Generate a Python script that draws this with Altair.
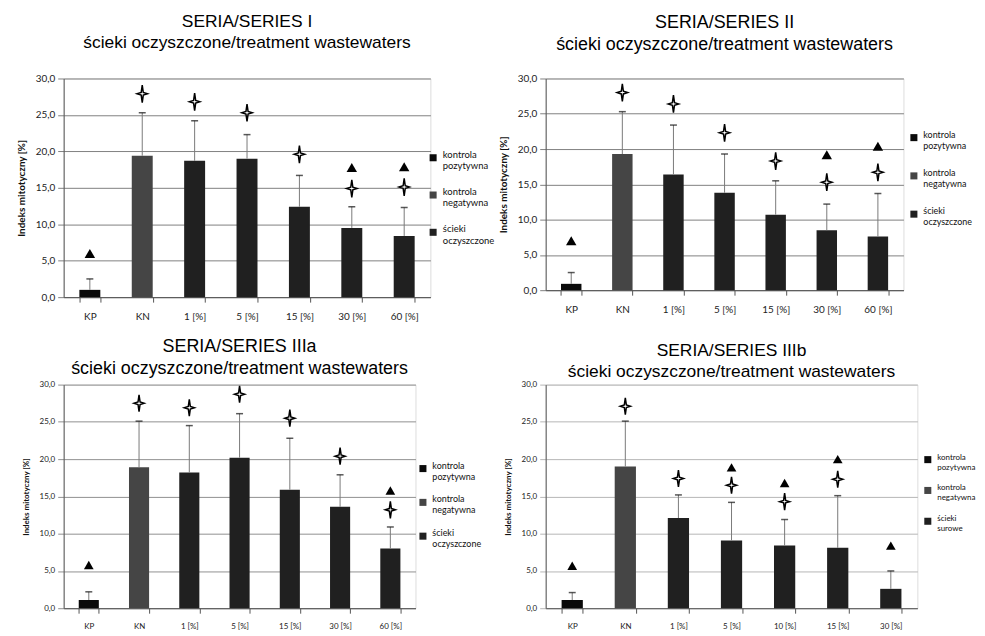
import altair as alt
import pandas as pd

# ---------------- data ----------------
cats_a = ["KP", "KN", "1 [%]", "5 [%]", "15 [%]", "30 [%]", "60 [%]"]
cats_b = ["KP", "KN", "1 [%]", "5 [%]", "10 [%]", "15 [%]", "30 [%]"]

mean_1 = [1.0, 19.4, 18.7, 19.0, 12.4, 9.5, 8.4]
sd_1 = [1.5, 5.9, 5.5, 3.3, 4.3, 2.9, 3.9]
star_1 = [None, 27.9, 26.8, 25.3, 19.6, 14.9, 15.1]
tri_1 = [6.0, None, None, None, None, 17.8, 17.9]

mean_2 = [0.9, 19.3, 16.4, 13.8, 10.7, 8.5, 7.6]
sd_2 = [1.6, 6.0, 7.0, 5.5, 4.8, 3.7, 6.1]
star_2 = [None, 28.0, 26.4, 22.3, 18.3, 15.3, 16.7]
tri_2 = [7.0, None, None, None, None, 19.2, 20.4]

mean_3 = [1.1, 18.9, 18.2, 20.2, 15.9, 13.6, 8.0]
sd_3 = [1.1, 6.2, 6.3, 5.9, 6.9, 4.3, 2.9]
star_3 = [None, 27.5, 26.9, 28.7, 25.5, 20.4, 13.2]
tri_3 = [5.8, None, None, None, None, None, 15.8]

mean_4 = [1.1, 19.0, 12.1, 9.1, 8.4, 8.1, 2.6]
sd_4 = [1.0, 6.1, 3.1, 5.1, 3.5, 7.0, 2.4]
star_4 = [None, 27.1, 17.4, 16.5, 14.3, 17.3, None]
tri_4 = [5.7, None, None, 18.9, 16.8, 20.0, 8.4]

legend_treated = ["kontrola pozytywna", "kontrola negatywna", "ścieki oczyszczone"]
legend_raw = ["kontrola pozytywna", "kontrola negatywna", "ścieki surowe"]

titles = [
    ("SERIA/SERIES I", "ścieki oczyszczone/treatment wastewaters"),
    ("SERIA/SERIES II", "ścieki oczyszczone/treatment wastewaters"),
    ("SERIA/SERIES IIIa", "ścieki oczyszczone/treatment wastewaters"),
    ("SERIA/SERIES IIIb", "ścieki oczyszczone/treatment wastewaters"),
]
y_ticks = [0, 5, 10, 15, 20, 25, 30]
bar_colors = ["#0a0a0a", "#454545", "#202020"]

STAR = "M0,-1 L0.12,-0.15 L0.6,0 L0.12,0.15 L0,1 L-0.12,0.15 L-0.6,0 L-0.12,-0.15 Z"
FONT = "Lato"


def panel(title, cats, mean, sd, star, tri, leg, w, h, title_offset, title_fs,
          fs, leg_fs, leg_x, leg_y, row_pad, grid_color, star_size, tri_size):
    groups = [leg[0], leg[1]] + [leg[2]] * (len(cats) - 2)
    df = pd.DataFrame({
        "cat": cats, "mean": mean,
        "upper": [m + s for m, s in zip(mean, sd)],
        "star": star, "tri": tri, "group": groups,
    })
    x = alt.X("cat:N", sort=cats,
              scale=alt.Scale(paddingInner=0.6, paddingOuter=0.3),
              axis=alt.Axis(title=None, labelAngle=0, tickBand="extent",
                            labelFont=FONT, labelFontSize=fs, labelColor="#222",
                            labelPadding=9, domainColor="#555", tickColor="#555",
                            tickSize=5, grid=False))
    yaxis = alt.Axis(values=y_ticks, title="Indeks mitotyczny [%]",
                     labelExpr="replace(format(datum.value, '.1f'), '.', ',')",
                     labelFont=FONT, labelFontSize=fs, labelColor="#222",
                     titleFont=FONT, titleFontSize=fs, titleFontWeight="bold",
                     titleColor="#111", grid=True, gridColor=grid_color,
                     domainColor="#555", tickColor=grid_color, tickSize=6,
                     labelPadding=3, titlePadding=9)
    yscale = alt.Scale(domain=[0, 30], nice=False)

    def y(field):
        return alt.Y(field, type="quantitative", scale=yscale, axis=yaxis,
                     title="Indeks mitotyczny [%]")

    base = alt.Chart(df)
    bars = base.mark_bar().encode(
        x=x, y=y("mean"),
        color=alt.Color("group:N", scale=alt.Scale(domain=leg, range=bar_colors),
                        legend=alt.Legend(title=None, orient="none", legendX=leg_x,
                                          legendY=leg_y, symbolType="square",
                                          symbolSize=50, labelFont=FONT,
                                          labelFontSize=leg_fs, labelColor="#111",
                                          labelBaseline="alphabetic",
                                          labelExpr="split(datum.label, ' ')",
                                          rowPadding=row_pad, labelOffset=5)),
    )
    err = base.mark_rule(color="#7a7a7a", strokeWidth=1).encode(
        x=x, y=y("mean"), y2="upper:Q")
    cap = base.mark_tick(color="#111", thickness=1.5, size=7).encode(
        x=x, y=y("upper"))
    stars = base.mark_point(shape=STAR, filled=True, fill="white", stroke="#000",
                            strokeWidth=1.5, opacity=1, size=star_size).encode(
        x=x, y=y("star"))
    tris = base.mark_point(shape="triangle-up", filled=True, color="#000",
                           opacity=1, size=tri_size).encode(x=x, y=y("tri"))
    return alt.layer(bars, err, cap, stars, tris).properties(
        width=w, height=h,
        title=alt.TitleParams(text=title[0], subtitle=title[1],
                              font="Liberation Sans", fontSize=title_fs,
                              subtitleFont="Liberation Sans", subtitleFontSize=title_fs,
                              subtitleColor="#000", subtitlePadding=4,
                              fontWeight="normal", color="#000", anchor="middle",
                              offset=title_offset),
    )


p1 = panel(titles[0], cats_a, mean_1, sd_1, star_1, tri_1, legend_treated,
           369, 220, 22, 17.5, 10, 9.5, 367, 75, 15.5, "#808080", 310, 110)
p2 = panel(titles[1], cats_a, mean_2, sd_2, star_2, tri_2, legend_treated,
           360, 213, 20, 18, 10, 9, 366, 55, 17.5, "#808080", 310, 110)
p3 = panel(titles[2], cats_a, mean_3, sd_3, star_3, tri_3, legend_treated,
           354, 225, 3, 18, 8, 9, 357, 80, 13, "#909090", 290, 95)
p4 = panel(titles[3], cats_b, mean_4, sd_4, star_4, tri_4, legend_raw,
           374, 225, 0, 17.5, 8, 8, 380, 71, 12, "#b5b5b5", 290, 95)

chart = alt.concat(p1, p2, p3, p4, columns=2, spacing={"row": 88, "column": 116},
                   bounds="flush").resolve_scale(
    color="independent").resolve_legend(color="independent").configure_view(
    stroke=None).configure(padding={"left": 7, "top": 2, "right": 0, "bottom": 0})

chart.save("out.html", embed_options={"renderer": "svg", "actions": False})
